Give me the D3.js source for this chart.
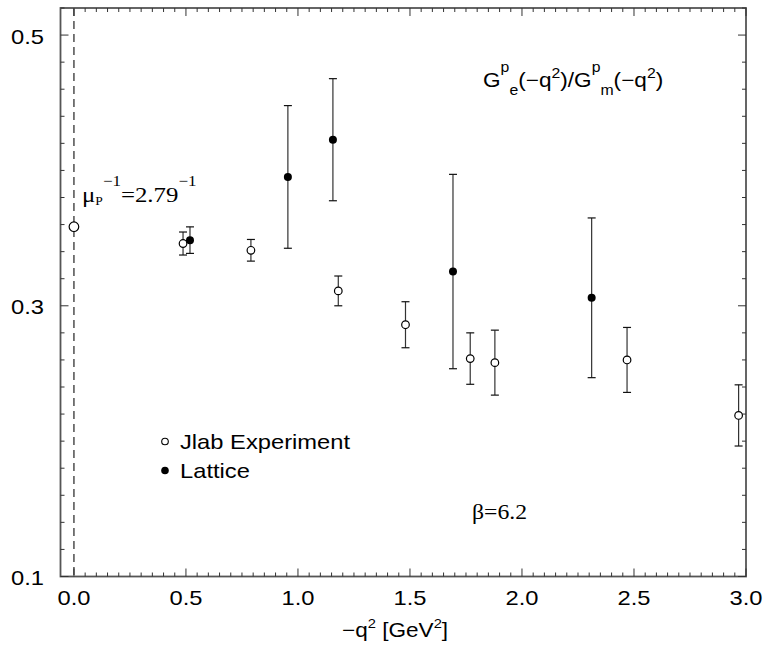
<!DOCTYPE html>
<html>
<head>
<meta charset="utf-8">
<script src="https://cdn.jsdelivr.net/npm/d3@7"></script>
<style>
  html, body { margin: 0; padding: 0; background: #fff; }
  svg { display: block; }
</style>
</head>
<body>
<svg id="chart" width="767" height="652"></svg>
<script>
// Jlab polarization-transfer measurements of the proton ratio G_E/G_M
const jlabQ2    = [0.487, 0.79, 1.18, 1.48, 1.769, 1.879, 2.469, 2.967];
const jlabRatio = [0.346, 0.341, 0.311, 0.286, 0.261, 0.258, 0.260, 0.219];
const jlabErr   = [0.0085, 0.008, 0.011, 0.017, 0.019, 0.024, 0.024, 0.0226];

// Quenched lattice results at beta = 6.2
const latticeQ2    = [0.518, 0.955, 1.156, 1.692, 2.311];
const latticeRatio = [0.3485, 0.3952, 0.4227, 0.3253, 0.3059];
const latticeErr   = [0.0098, 0.0527, 0.0451, 0.0718, 0.059];

// Static limit: ratio equals 1 / mu_p
const protonMoment = 2.79;

const xDomain = [-0.06, 3.0];
const yDomain = [0.1, 0.52];
const xTickLabels = ["0.0", "0.5", "1.0", "1.5", "2.0", "2.5", "3.0"];
const yTickLabels = ["0.1", "0.3", "0.5"];

const SANS = "'Liberation Sans', Arial, Helvetica, sans-serif";
const SERIF = "'Liberation Serif', 'Times New Roman', serif";

const svg = d3.select("#chart");
const L = 60.5, R = 746, T = 8, B = 576.5;
const x = d3.scaleLinear().domain(xDomain).range([L, R]);
const y = d3.scaleLinear().domain(yDomain).range([B, T]);
const SX = 1.13; // horizontal stretch of the lettering

function label(g, px, py, anchor, family, size) {
  return g.append("text")
    .attr("transform", `translate(${px},${py}) scale(${SX},1)`)
    .attr("text-anchor", anchor)
    .style("font-family", family)
    .style("font-size", size + "px")
    .attr("fill", "#000");
}
function sub(t, size, dy, txt) {
  return t.append("tspan").style("font-size", size + "px").attr("dy", dy).text(txt);
}

// Dashed marker at q^2 = 0
svg.append("line")
  .attr("x1", x(0)).attr("x2", x(0))
  .attr("y1", T).attr("y2", B)
  .attr("stroke", "#222").attr("stroke-width", 1.2)
  .attr("stroke-dasharray", "8,5");

// Frame
svg.append("rect")
  .attr("x", L).attr("y", T).attr("width", R - L).attr("height", B - T)
  .attr("fill", "none").attr("stroke", "#555").attr("stroke-width", 1.8);

// Inward ticks on all four sides
const ticks = svg.append("g").attr("stroke", "#333").attr("stroke-width", 1);
const xMinor = d3.range(0, 3.0001, 0.05);
xMinor.forEach(v => {
  const major = Math.abs(v / 0.5 - Math.round(v / 0.5)) < 1e-6;
  const len = major ? 8 : 4;
  ticks.append("line").attr("x1", x(v)).attr("x2", x(v)).attr("y1", B).attr("y2", B - len);
  ticks.append("line").attr("x1", x(v)).attr("x2", x(v)).attr("y1", T).attr("y2", T + len);
});
const yMinor = d3.range(0.1, 0.5201, 0.02);
yMinor.forEach(v => {
  const major = [0.1, 0.3, 0.5].some(m => Math.abs(m - v) < 1e-6);
  const len = major ? 8 : 4;
  ticks.append("line").attr("x1", L).attr("x2", L + len).attr("y1", y(v)).attr("y2", y(v));
  ticks.append("line").attr("x1", R).attr("x2", R - len).attr("y1", y(v)).attr("y2", y(v));
});

// Tick labels
xTickLabels.forEach(t => {
  label(svg, x(+t), 605, "middle", SANS, 21).text(t);
});
yTickLabels.forEach(t => {
  label(svg, 44, y(+t) + 8.5, "end", SANS, 21).text(t);
});

// Axis title: −q² [GeV²]
const xt = label(svg, 342, 637, "start", SANS, 20);
xt.append("tspan").text("\u2212q");
sub(xt, 13, -9, "2");
xt.append("tspan").attr("dy", 9).text(" [GeV");
sub(xt, 13, -9, "2");
xt.append("tspan").attr("dy", 9).text("]");

// Error bars
function errorBars(qs, vals, errs) {
  const g = svg.append("g").attr("stroke", "#333").attr("stroke-width", 1.2);
  qs.forEach((q, i) => {
    const cx = x(q), y0 = y(vals[i] - errs[i]), y1 = y(vals[i] + errs[i]);
    g.append("line").attr("x1", cx).attr("x2", cx).attr("y1", y0).attr("y2", y1);
    g.append("line").attr("x1", cx - 4).attr("x2", cx + 4).attr("y1", y0).attr("y2", y0).attr("stroke", "#111");
    g.append("line").attr("x1", cx - 4).attr("x2", cx + 4).attr("y1", y1).attr("y2", y1).attr("stroke", "#111");
  });
}
errorBars(jlabQ2, jlabRatio, jlabErr);
errorBars(latticeQ2, latticeRatio, latticeErr);

// Markers
svg.append("g").selectAll("circle").data(jlabQ2).join("circle")
  .attr("cx", d => x(d)).attr("cy", (d, i) => y(jlabRatio[i]))
  .attr("r", 3.8).attr("fill", "#fff").attr("stroke", "#000").attr("stroke-width", 1.2);
svg.append("g").selectAll("circle").data(latticeQ2).join("circle")
  .attr("cx", d => x(d)).attr("cy", (d, i) => y(latticeRatio[i]))
  .attr("r", 4).attr("fill", "#000");

// Static-limit point 1/mu_p
svg.append("circle")
  .attr("cx", x(0)).attr("cy", y(1 / protonMoment))
  .attr("r", 4.8).attr("fill", "#fff").attr("stroke", "#000").attr("stroke-width", 1.2);

// μ_P^-1 = 2.79^-1
const mu = label(svg, 82, 202, "start", SERIF, 22);
mu.append("tspan").text("\u03bc");
sub(mu, 12, 3, "P");
sub(mu, 15, -19, "\u22121");
mu.append("tspan").attr("dy", 16).text("=2.79");
sub(mu, 15, -16, "\u22121");

// Title ratio G^p_e(−q²)/G^p_m(−q²)
const ti = label(svg, 483, 86.5, "start", SANS, 20);
ti.append("tspan").text("G");
sub(ti, 14, -15, "p");
sub(ti, 14, 23, "e");
ti.append("tspan").attr("dy", -8).text("(\u2212q");
sub(ti, 14, -9, "2");
ti.append("tspan").attr("dy", 9).text(")/G");
sub(ti, 14, -15, "p");
sub(ti, 14, 23, "m");
ti.append("tspan").attr("dy", -8).text("(\u2212q");
sub(ti, 14, -9, "2");
ti.append("tspan").attr("dy", 9).text(")");

// Legend
svg.append("circle").attr("cx", 165).attr("cy", 441.5).attr("r", 3.3)
  .attr("fill", "#fff").attr("stroke", "#000").attr("stroke-width", 1.1);
label(svg, 180, 448.5, "start", SANS, 21).text("Jlab Experiment");
svg.append("circle").attr("cx", 165).attr("cy", 470.5).attr("r", 3.8).attr("fill", "#000");
label(svg, 180, 477.5, "start", SANS, 21).text("Lattice");

// beta label
label(svg, 472, 519, "start", SERIF, 21).text("\u03b2=6.2");
</script>
</body>
</html>
